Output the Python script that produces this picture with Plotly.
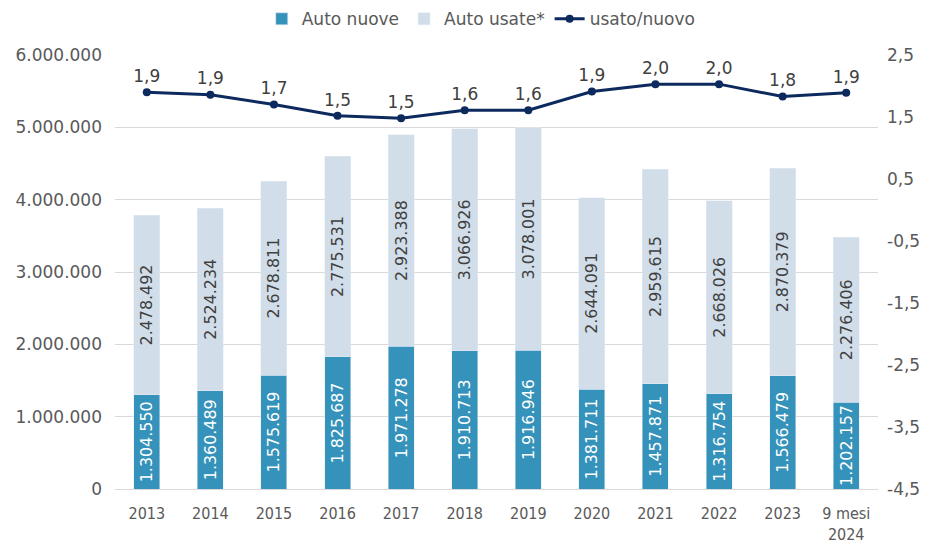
import plotly.graph_objects as go

categories = ["2013", "2014", "2015", "2016", "2017", "2018", "2019", "2020", "2021", "2022", "2023", "9 mesi<br>2024"]
auto_nuove = [1304550, 1360489, 1575619, 1825687, 1971278, 1910713, 1916946, 1381711, 1457871, 1316754, 1566479, 1202157]
auto_usate = [2478492, 2524234, 2678811, 2775531, 2923388, 3066926, 3078001, 2644091, 2959615, 2668026, 2870379, 2276406]
usato_nuovo = [1.90, 1.86, 1.70, 1.52, 1.48, 1.61, 1.61, 1.91, 2.03, 2.03, 1.83, 1.89]
left_ticks = [0, 1000000, 2000000, 3000000, 4000000, 5000000, 6000000]
right_ticks = [-4.5, -3.5, -2.5, -1.5, -0.5, 0.5, 1.5, 2.5]
right_ticktext = [f"{v:.1f}".replace(".", ",") for v in right_ticks]

FONT = "DejaVu Sans"
C_NEW = "#3592ba"
C_USED = "#d1dee9"
C_LINE = "#0d2a5e"
GREY = "#595959"

fig = go.Figure()
fig.add_trace(go.Bar(
    x=categories, y=auto_nuove, name="Auto nuove", marker_color=C_NEW,
    text=auto_nuove, texttemplate="%{y:,d}", textposition="inside",
    insidetextanchor="middle", textangle=-90,
    insidetextfont=dict(color="white", size=16, family=FONT),
))
fig.add_trace(go.Bar(
    x=categories, y=auto_usate, name="Auto usate*", marker_color=C_USED,
    text=auto_usate, texttemplate="%{y:,d}", textposition="inside",
    insidetextanchor="middle", textangle=-90,
    insidetextfont=dict(color="#404040", size=16, family=FONT),
))
fig.add_trace(go.Scatter(
    x=categories, y=usato_nuovo, name="usato/nuovo", yaxis="y2",
    mode="lines+markers+text", line=dict(color=C_LINE, width=3),
    marker=dict(color=C_LINE, size=8),
    text=usato_nuovo, texttemplate="%{y:.1f}", textposition="top center",
    textfont=dict(color="#404040", size=17, family=FONT),
))

fig.update_layout(
    width=924, height=536,
    barmode="stack", bargap=0.59,
    separators=",.",
    plot_bgcolor="white", paper_bgcolor="white",
    font=dict(family=FONT, color=GREY, size=17),
    margin=dict(l=107, r=54, t=47, b=55, autoexpand=False),
    uniformtext=dict(minsize=15, mode="show"),
    legend=dict(orientation="h", x=0.48, xanchor="center", yref="container", y=0.979, yanchor="middle",
                font=dict(size=17, color=GREY, family=FONT), traceorder="normal",
                itemwidth=30),
    xaxis=dict(type="category", range=[-0.5, len(categories) - 0.5],
               showline=True, linecolor="#d9d9d9", linewidth=1,
               tickfont=dict(family="DejaVu Sans Condensed", size=16, color=GREY),
               ticks="", showgrid=False, automargin=False, ticklabelstandoff=10),
    yaxis=dict(range=[0, 6000000], tickvals=left_ticks, tickformat=",d",
               showgrid=True, gridcolor="#d9d9d9", gridwidth=1, zeroline=False,
               ticks="", tickfont=dict(size=17, color=GREY), ticklabelstandoff=12,
               automargin=False),
    yaxis2=dict(range=[-4.5, 2.5], tickvals=right_ticks, ticktext=right_ticktext,
                overlaying="y", side="right", showgrid=False, zeroline=False,
                ticks="", tickfont=dict(size=17, color=GREY), ticklabelstandoff=8,
                automargin=False),
)

fig.write_html("out.html")
